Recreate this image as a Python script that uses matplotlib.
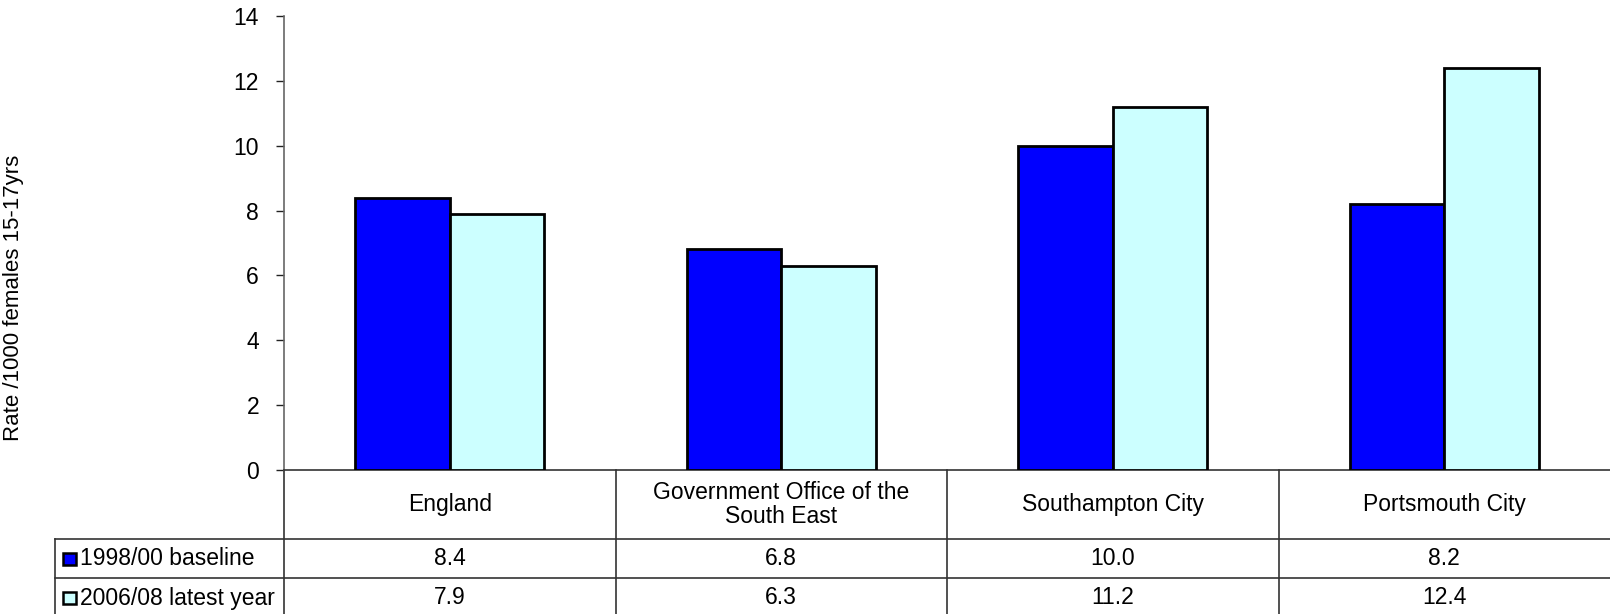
import matplotlib
matplotlib.use("Agg")
import matplotlib.pyplot as plt
from matplotlib.patches import Rectangle

categories = ["England", "Government Office of the\nSouth East", "Southampton City", "Portsmouth City"]
series_names = ["1998/00 baseline", "2006/08 latest year"]
baseline = [8.4, 6.8, 10.0, 8.2]
latest = [7.9, 6.3, 11.2, 12.4]
colors = ["#0000FF", "#CCFFFF"]
yticks = [0, 2, 4, 6, 8, 10, 12, 14]

plt.rcParams['font.family'] = ['Liberation Sans', 'DejaVu Sans']
FS = 16.5
W, H = 1610, 614
fig = plt.figure(figsize=(W / 100, H / 100), dpi=100)
ax_l, ax_r, ax_t, ax_b = 284, 1610, 16, 470
ax = fig.add_axes([ax_l / W, 1 - ax_b / H, (ax_r - ax_l) / W, (ax_b - ax_t) / H])

n = len(categories)
bw = 1 / 3.5
xs = list(range(n))
for i, (vals, c) in enumerate(zip([baseline, latest], colors)):
    off = (i - 0.5) * bw
    ax.bar([x + off for x in xs], vals, width=bw, color=c, edgecolor="black", linewidth=2, zorder=3)

ax.set_xlim(-0.5, n - 0.5)
ax.set_ylim(0, 14)
ax.set_yticks(yticks)
ax.set_yticklabels([str(t) for t in yticks], fontsize=FS)
ax.tick_params(axis='y', direction='out', length=6, width=1, pad=12, colors='#222222', labelcolor='black')
ax.set_xticks([])
for s in ['top', 'right']:
    ax.spines[s].set_visible(False)
ax.spines['left'].set_color('#666666')
ax.spines['bottom'].set_color('#333333')
ax.spines['left'].set_linewidth(1.2)
ax.spines['bottom'].set_linewidth(1.2)

fig.text(14 / W, 1 - 298 / H, "Rate /1000 females 15-17yrs", rotation=90, ha='center', va='center', fontsize=FS - 0.5)

# data table
ah = ax_b - ax_t
unit = (ax_r - ax_l) / n
def fy(py):
    return -(py - ax_b) / ah
def fx(px):
    return -0.5 + (px - ax_l) / unit

tr = ax.get_xaxis_transform()
r0, r1, r2, r3 = fy(470), fy(539), fy(578), fy(618)
lc = '#333333'
lw = 1.2
for r in (r1, r2):
    ax.plot([fx(55), n - 0.5], [r, r], transform=tr, clip_on=False, color=lc, lw=lw)
for b in range(n):
    ax.plot([b - 0.5, b - 0.5], [r0, r3], transform=tr, clip_on=False, color=lc, lw=lw)
ax.plot([fx(55), fx(55)], [r1, r3], transform=tr, clip_on=False, color=lc, lw=lw)

for i, cat in enumerate(categories):
    ax.text(i, (r0 + r1) / 2, cat, transform=tr, ha='center', va='center', fontsize=FS, linespacing=1.1)
for vals, r_top, r_bot in [(baseline, r1, r2), (latest, r2, r3)]:
    for i, v in enumerate(vals):
        ax.text(i, (r_top + r_bot) / 2, f"{v:.1f}", transform=tr, ha='center', va='center', fontsize=FS)
for name, c, r_top, r_bot in [(series_names[0], colors[0], r1, r2), (series_names[1], colors[1], r2, r3)]:
    yc = (r_top + r_bot) / 2
    ax.add_patch(Rectangle((fx(63), yc - 6 / ah), fx(76) - fx(63), 12 / ah, transform=tr,
                           facecolor=c, edgecolor='black', lw=1.8, clip_on=False))
    ax.text(fx(80), yc, name, transform=tr, ha='left', va='center', fontsize=FS)

fig.savefig("out.png", dpi=100)
